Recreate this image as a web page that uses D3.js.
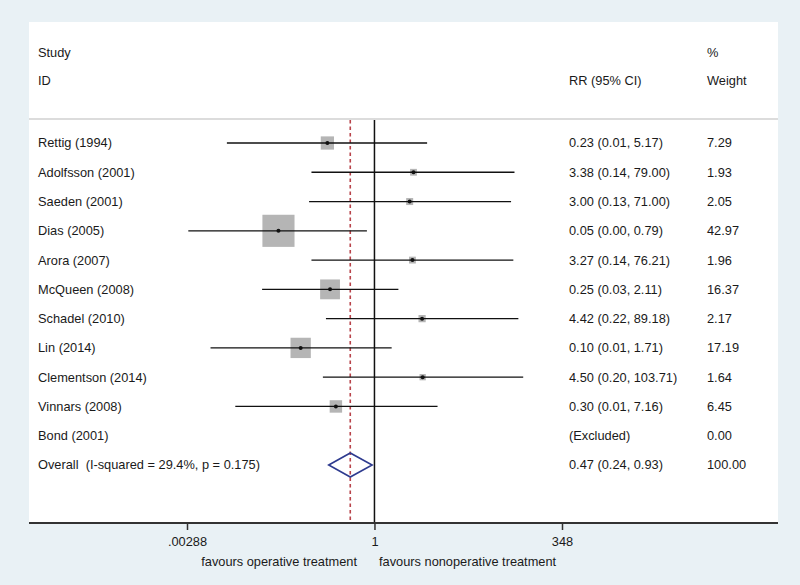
<!DOCTYPE html>
<html>
<head>
<meta charset="utf-8">
<script src="https://cdn.jsdelivr.net/npm/d3@7"></script>
<style>
  html, body { margin: 0; padding: 0; background: #e9f1f5; }
  svg { display: block; }
  text { font-family: "Liberation Sans", Arial, sans-serif; fill: #1a1a1a; white-space: pre; }
</style>
</head>
<body>
<svg id="chart" width="800" height="585"></svg>
<script>
// ---------------- data ----------------
const studies = ["Rettig (1994)", "Adolfsson (2001)", "Saeden (2001)", "Dias (2005)", "Arora (2007)",
  "McQueen (2008)", "Schadel (2010)", "Lin (2014)", "Clementson (2014)", "Vinnars (2008)", "Bond (2001)"];
const rr      = [0.23, 3.38, 3.00, 0.05, 3.27, 0.25, 4.42, 0.10, 4.50, 0.30, null];
const lower   = [0.01, 0.14, 0.13, 0.003, 0.14, 0.03, 0.22, 0.006, 0.20, 0.013, null];
const upper   = [5.17, 79.00, 71.00, 0.79, 76.21, 2.11, 89.18, 1.71, 103.71, 7.16, null];
const weights = [7.29, 1.93, 2.05, 42.97, 1.96, 16.37, 2.17, 17.19, 1.64, 6.45, 0.00];
const overallLabel = "Overall  (I-squared = 29.4%, p = 0.175)";
const overall = { rr: 0.47, lower: 0.24, upper: 0.93, weight: 100.00 };
const tickValues = [0.00288, 1, 348];
const tickLabels = [".00288", "1", "348"];
const favourLeft = "favours operative treatment";
const favourRight = "favours nonoperative treatment";

// ---------------- layout ----------------
const svg = d3.select("#chart");
const W = 800, H = 585;
const panel = { x0: 29, x1: 778, y0: 22, y1: 523 };
const fontSize = 12.8;

svg.append("rect").attr("x", 0).attr("y", 0).attr("width", W).attr("height", H).attr("fill", "#e9f1f5");
svg.append("rect").attr("x", panel.x0).attr("y", panel.y0)
  .attr("width", panel.x1 - panel.x0).attr("height", panel.y1 - panel.y0).attr("fill", "#ffffff");

const x = d3.scaleLog().domain([0.00288, 348]).range([187, 562]);
const rowIdx = d3.range(studies.length + 1);
const y = d3.scalePoint().domain(rowIdx).range([143, 465]);
const boxSide = d3.scaleSqrt().domain([0, 100]).range([0, 49]);

const fmt = d3.format(".2f");

// header separator
svg.append("line").attr("x1", panel.x0).attr("x2", panel.x1).attr("y1", 119).attr("y2", 119)
  .attr("stroke", "#dcdcdc").attr("stroke-width", 2);

// headers
const colCI = 569, colW = 707, colLabel = 38;
function txt(xp, yp, s, anchor) {
  return svg.append("text").attr("x", xp).attr("y", yp).attr("dy", "0.35em")
    .attr("font-size", fontSize).attr("text-anchor", anchor || "start").text(s);
}
txt(colLabel, 53, "Study");
txt(colLabel, 81, "ID");
txt(colCI, 81, "RR (95% CI)");
txt(colW, 53, "%");
txt(colW, 81, "Weight");

// reference lines
svg.append("line").attr("x1", x(1)).attr("x2", x(1)).attr("y1", 120).attr("y2", panel.y1)
  .attr("stroke", "#111").attr("stroke-width", 1.5);
svg.append("line").attr("x1", x(overall.rr)).attr("x2", x(overall.rr)).attr("y1", 120).attr("y2", panel.y1)
  .attr("stroke", "#b8434a").attr("stroke-width", 1.6).attr("stroke-dasharray", "3.5,3");

// study rows
const g = svg.append("g");
studies.forEach((name, i) => {
  const yy = y(i);
  txt(colLabel, yy, name);
  if (rr[i] === null) {
    txt(colCI, yy, "(Excluded)");
  } else {
    txt(colCI, yy, `${fmt(rr[i])} (${fmt(lower[i])}, ${fmt(upper[i])})`);
    const s = boxSide(weights[i]);
    g.append("rect").attr("x", x(rr[i]) - s / 2).attr("y", yy - s / 2)
      .attr("width", s).attr("height", s).attr("fill", "#b5b5b5");
    g.append("line").attr("x1", x(lower[i])).attr("x2", x(upper[i])).attr("y1", yy).attr("y2", yy)
      .attr("stroke", "#111").attr("stroke-width", 1.3);
    g.append("circle").attr("cx", x(rr[i])).attr("cy", yy).attr("r", 2).attr("fill", "#111");
  }
  txt(colW, yy, fmt(weights[i]));
});

// overall row
const yo = y(studies.length);
txt(colLabel, yo, overallLabel);
txt(colCI, yo, `${fmt(overall.rr)} (${fmt(overall.lower)}, ${fmt(overall.upper)})`);
txt(colW, yo, fmt(overall.weight));
const dh = 12;
svg.append("path")
  .attr("d", `M${x(overall.lower)},${yo} L${x(overall.rr)},${yo - dh} L${x(overall.upper)},${yo} L${x(overall.rr)},${yo + dh} Z`)
  .attr("fill", "none").attr("stroke", "#2e3b8f").attr("stroke-width", 1.6);

// x axis
const axisG = svg.append("g").attr("transform", `translate(0,${panel.y1})`);
axisG.append("line").attr("x1", panel.x0).attr("x2", panel.x1).attr("y1", 0).attr("y2", 0)
  .attr("stroke", "#333").attr("stroke-width", 2);
const axis = d3.axisBottom(x).tickValues(tickValues)
  .tickFormat((d, i) => tickLabels[i]).tickSize(7).tickPadding(7);
const ag = axisG.append("g").call(axis);
ag.select(".domain").remove();
ag.selectAll(".tick line").attr("stroke", "#333").attr("stroke-width", 1.5);
ag.selectAll(".tick text").attr("font-size", fontSize).attr("fill", "#1a1a1a")
  .attr("font-family", "Liberation Sans, Arial, sans-serif");

txt(357, 562, favourLeft, "end");
txt(379, 562, favourRight, "start");
</script>
</body>
</html>
